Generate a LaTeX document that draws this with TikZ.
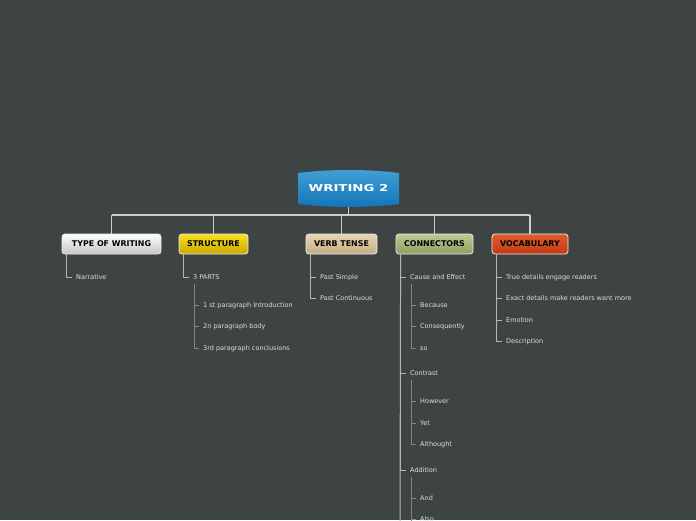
\documentclass[tikz,border=0pt]{standalone}
\usepackage{fontspec}
\setmainfont{DejaVu Sans}
\usetikzlibrary{shadings}
\definecolor{bg}{RGB}{62,68,68}
\definecolor{txt}{RGB}{222,222,222}
\definecolor{mainln}{RGB}{205,205,205}
\definecolor{l1ln}{RGB}{180,182,182}
\definecolor{l2ln}{RGB}{130,134,134}
\tikzset{
  topic/.style={rounded corners=3pt, draw=white!85!gray, line width=0.8pt, minimum height=20pt, inner sep=0pt, font=\fontsize{7.9}{8}\selectfont\bfseries, text=black},
  item/.style={anchor=west, inner sep=0pt, text=txt, font=\fontsize{6.5}{7}\selectfont, text height=5pt, text depth=1.4pt, yshift=-1.5pt},
  mainline/.style={draw=mainln, line width=1.4pt},
  l1/.style={draw=l1ln, line width=1pt},
  l2/.style={draw=l2ln, line width=1pt},
}
\begin{document}
\begin{tikzpicture}[x=1pt,y=-1pt]
\fill[bg] (0,0) rectangle (696,520);
\useasboundingbox (0,0) rectangle (696,520);

% root
\shade[top color={rgb,255:red,66;green,160;blue,212}, bottom color={rgb,255:red,18;green,116;blue,184}]
  (298,173) .. controls (330,169) and (367,169) .. (399,173) -- (399,204)
  .. controls (367,208) and (330,208) .. (298,204) -- cycle;
\node[minimum width=101pt, minimum height=37pt, inner sep=0pt, text=white, font=\fontsize{9.5}{10}\selectfont\bfseries] (root) at (348.5,188.5) {\scalebox{1.4}[1]{WRITING 2}};

% topics
\node[topic, minimum width=99pt, top color=white, bottom color={rgb,255:red,196;green,196;blue,196}] (tw) at (111.5,244) {TYPE OF WRITING};
\node[topic, minimum width=69pt, top color={rgb,255:red,246;green,226;blue,30}, bottom color={rgb,255:red,200;green,168;blue,0}] (st) at (213.5,244) {STRUCTURE};
\node[topic, minimum width=71pt, top color={rgb,255:red,230;green,214;blue,178}, bottom color={rgb,255:red,196;green,172;blue,130}] (vt) at (341.5,244) {VERB TENSE};
\node[topic, minimum width=77pt, top color={rgb,255:red,188;green,202;blue,146}, bottom color={rgb,255:red,142;green,160;blue,102}] (cn) at (434.5,244) {CONNECTORS};
\node[topic, minimum width=76pt, top color={rgb,255:red,226;green,92;blue,40}, bottom color={rgb,255:red,190;green,58;blue,22}] (vo) at (530,244) {VOCABULARY};

\coordinate (hb) at (348,215);
\draw[mainline] (root.south) -- (root.south |- hb);
\draw[mainline] (tw.north |- hb) -- (vo.north |- hb);
\foreach \b in {tw,st,vt,cn,vo} \draw[mainline] (\b.north) -- (\b.north |- hb);

% TYPE OF WRITING
\node[item] (narr) at (76,276) {Narrative};
\draw[l1] ([xshift=5pt]tw.south west) |- ([xshift=-4pt]narr.west);

% STRUCTURE
\node[item] (p3) at (193,276) {3 PARTS};
\draw[l1] ([xshift=5pt]st.south west) |- ([xshift=-4pt]p3.west);
\node[item] (s1) at (203,304) {1 st paragraph Introduction};
\node[item] (s2) at (203,325) {2n paragraph body};
\node[item] (s3) at (203,347) {3rd paragraph conclusions};
\foreach \c in {s1,s2,s3} \draw[l2] ([xshift=1pt,yshift=-3pt]p3.south west) |- ([xshift=-4pt]\c.west);

% VERB TENSE
\node[item] (v1) at (320,276) {Past Simple};
\node[item] (v2) at (320,297) {Past Continuous};
\foreach \c in {v1,v2} \draw[l1] ([xshift=5pt]vt.south west) |- ([xshift=-4pt]\c.west);

% CONNECTORS
\coordinate (cnend) at (400,524);
\draw[l1] ([xshift=5pt]cn.south west) -- (cnend);
\node[item] (ce) at (410,276) {Cause and Effect};
\node[item] (ct) at (410,372) {Contrast};
\node[item] (ad) at (410,469) {Addition};
\foreach \c in {ce,ct,ad} \draw[l1] ([xshift=5pt]cn.south west) |- ([xshift=-4pt]\c.west);
\node[item] (c1) at (420,304) {Because};
\node[item] (c2) at (420,325) {Consequently};
\node[item] (c3) at (420,347) {so};
\foreach \c in {c1,c2,c3} \draw[l2] ([xshift=1pt,yshift=-3pt]ce.south west) |- ([xshift=-4pt]\c.west);
\node[item] (d1) at (420,400) {However};
\node[item] (d2) at (420,422) {Yet};
\node[item] (d3) at (420,443) {Althought};
\foreach \c in {d1,d2,d3} \draw[l2] ([xshift=1pt,yshift=-3pt]ct.south west) |- ([xshift=-4pt]\c.west);
\node[item] (a1) at (420,497) {And};
\node[item] (a2) at (420,518) {Also};
\coordinate (adend) at (411,524);
\draw[l2] ([xshift=1pt,yshift=-3pt]ad.south west) -- (adend);
\foreach \c in {a1,a2} \draw[l2] ([xshift=1pt,yshift=-3pt]ad.south west) |- ([xshift=-4pt]\c.west);

% VOCABULARY
\node[item] (w1) at (506,276) {True details engage readers};
\node[item] (w2) at (506,297) {Exact details make readers want more};
\node[item] (w3) at (506,319) {Emotion};
\node[item] (w4) at (506,340) {Description};
\foreach \c in {w1,w2,w3,w4} \draw[l1] ([xshift=5pt]vo.south west) |- ([xshift=-4pt]\c.west);
\end{tikzpicture}
\end{document}
